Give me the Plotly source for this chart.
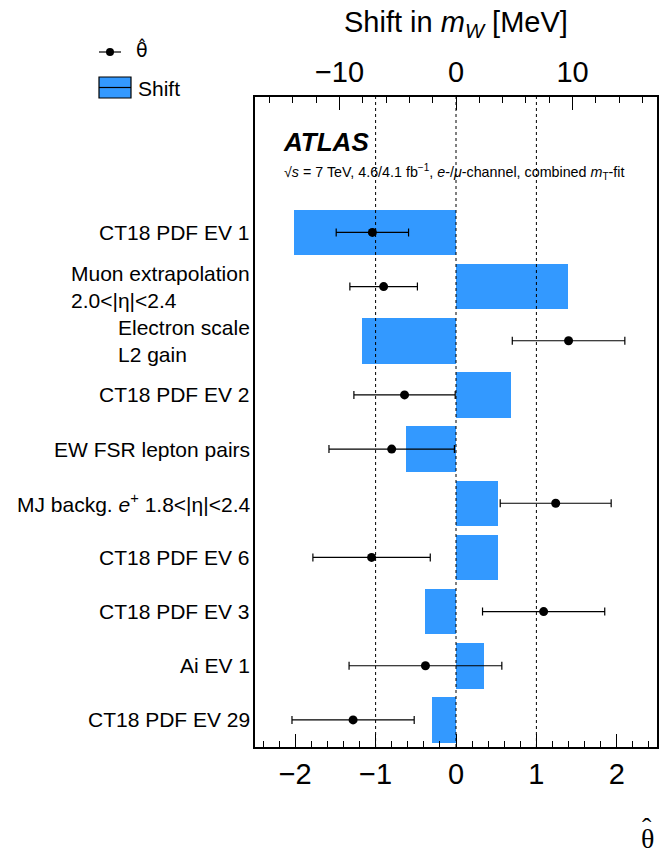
import plotly.graph_objects as go

# Data (top to bottom as in chart)
labels = [
    "CT18 PDF EV 1",
    "Muon extrapolation<br>2.0<|η|<2.4",
    "Electron scale<br>L2 gain",
    "CT18 PDF EV 2",
    "EW FSR lepton pairs",
    "MJ backg. <i>e</i><sup>+</sup> 1.8<|η|<2.4",
    "CT18 PDF EV 6",
    "CT18 PDF EV 3",
    "Ai EV 1",
    "CT18 PDF EV 29",
]
shift_mev = [-13.9, 9.6, -8.1, 4.7, -4.3, 3.6, 3.6, -2.7, 2.4, -2.05]
theta_hat = [-1.04, -0.90, 1.40, -0.64, -0.80, 1.24, -1.05, 1.09, -0.38, -1.28]
theta_err = [0.45, 0.42, 0.70, 0.63, 0.78, 0.69, 0.73, 0.76, 0.95, 0.76]

MEV_PER_THETA = 6.9
n = len(labels)
ypos = [n - 1 - i for i in range(n)]

BLUE = "#3399ff"
FONT = "Liberation Sans, Arial, sans-serif"
SERIF = "Liberation Serif, DejaVu Serif, serif"

fig = go.Figure()
# bars on the MeV axis (drawn first / underneath)
fig.add_trace(go.Bar(
    x=shift_mev, y=ypos, orientation="h", width=0.84,
    marker=dict(color=BLUE, line=dict(width=0)),
    xaxis="x", yaxis="y", showlegend=False,
))
# pulls on the theta-hat axis (overlaying, drawn on top)
fig.add_trace(go.Scatter(
    x=theta_hat, y=ypos, mode="markers",
    marker=dict(color="black", size=9),
    error_x=dict(type="data", array=theta_err, color="black", thickness=1.2, width=4),
    xaxis="x2", yaxis="y", showlegend=False,
))

# dashed reference lines
shapes = []
for xv in [-1, 0, 1]:
    shapes.append(dict(type="line", xref="x2", yref="paper", x0=xv, x1=xv, y0=0, y1=1,
                       line=dict(color="black", width=1, dash="3px,3px"), layer="above"))

L, R, T, B = 255, 657, 97, 747
def px(xp):
    return (xp - L) / (R - L)
def py(yp):
    return (B - yp) / (B - T)

# legend drawing
shapes.append(dict(type="line", xref="paper", yref="paper", x0=px(99), x1=px(121), y0=py(52), y1=py(52),
                   line=dict(color="black", width=1.2)))
shapes.append(dict(type="circle", xref="paper", yref="paper", x0=px(106), x1=px(114), y0=py(56), y1=py(48),
                   fillcolor="black", line=dict(color="black", width=0)))
shapes.append(dict(type="rect", xref="paper", yref="paper", x0=px(99), x1=px(131), y0=py(98), y1=py(77),
                   fillcolor=BLUE, line=dict(color="black", width=1.2)))
shapes.append(dict(type="line", xref="paper", yref="paper", x0=px(99), x1=px(131), y0=py(87.5), y1=py(87.5),
                   line=dict(color="black", width=1.2)))

annotations = []
for lab, yv in zip(labels, ypos):
    annotations.append(dict(text=lab, xref="paper", yref="y", x=px(252), y=yv,
                            xanchor="right", yanchor="middle", align="left", showarrow=False,
                            font=dict(family=FONT, size=21, color="black")))
annotations += [
    dict(text="<b><i>ATLAS</i></b>", xref="paper", yref="paper", x=px(281), y=py(142),
         xanchor="left", yanchor="middle", showarrow=False, font=dict(family=FONT, size=26, color="black")),
    dict(text="√<i>s</i> = 7 TeV, 4.6/4.1 fb<sup>−1</sup>, <i>e</i>-/<i>μ</i>-channel, combined <i>m</i><sub>T</sub>-fit",
         xref="paper", yref="paper", x=px(282), y=py(172),
         xanchor="left", yanchor="middle", showarrow=False, font=dict(family=FONT, size=14.3, color="black")),
    dict(text="Shift in <i>m</i><sub><i>W</i></sub> [MeV]", xref="paper", yref="paper", x=0.5, y=py(24),
         xanchor="center", yanchor="middle", showarrow=False, font=dict(family=FONT, size=29, color="black")),
    # bottom axis title theta-hat (serif)
    dict(text="θ", xref="paper", yref="paper", x=px(647), y=py(838),
         xanchor="center", yanchor="middle", showarrow=False,
         font=dict(family=SERIF, size=28, color="black")),
    dict(text="ˆ", xref="paper", yref="paper", x=px(647), y=py(827),
         xanchor="center", yanchor="middle", showarrow=False,
         font=dict(family=SERIF, size=28, color="black")),
    dict(text="θ̂", xref="paper", yref="paper", x=px(134), y=py(50),
         xanchor="left", yanchor="middle", showarrow=False, font=dict(family="DejaVu Sans, sans-serif", size=19, color="black")),
    dict(text="Shift", xref="paper", yref="paper", x=px(136), y=py(88),
         xanchor="left", yanchor="middle", showarrow=False, font=dict(family=FONT, size=21, color="black")),
]

fig.update_layout(
    width=664, height=856,
    margin=dict(l=L, r=664 - R, t=T, b=856 - B, autoexpand=False),
    plot_bgcolor="white", paper_bgcolor="white",
    font=dict(family=FONT, color="black"),
    shapes=shapes, annotations=annotations,
    xaxis=dict(range=[-2.5 * MEV_PER_THETA, 2.5 * MEV_PER_THETA], side="top",
               dtick=10, tick0=0, ticks="inside", ticklen=13, tickwidth=1.2, tickcolor="black",
               minor=dict(dtick=2, ticks="inside", ticklen=6, tickwidth=1, tickcolor="black"),
               showline=True, linecolor="black", linewidth=1.5,
               showgrid=False, zeroline=False, tickfont=dict(size=29, family=FONT, color="black"),
               ticklabelstandoff=2),
    xaxis2=dict(range=[-2.5, 2.5], overlaying="x", side="bottom", dtick=1, tick0=0,
                ticks="inside", ticklen=13, tickwidth=1.2, tickcolor="black",
                minor=dict(dtick=0.2, ticks="inside", ticklen=6, tickwidth=1, tickcolor="black"),
                showline=True, linecolor="black", linewidth=1.5,
                showgrid=False, zeroline=False, tickfont=dict(size=29, family=FONT, color="black"),
                ticklabelstandoff=0),
    yaxis=dict(range=[-0.5, 11.5], showticklabels=False, ticks="", showgrid=False, zeroline=False,
               showline=True, linecolor="black", linewidth=1.5, mirror=True),
    bargap=0,
)

post = ("document.body.style.margin='0';document.body.style.padding='0';"
        "document.documentElement.style.overflow='hidden';document.body.style.overflow='hidden';")
fig.write_html("out.html", post_script=post, config={"displayModeBar": False})
